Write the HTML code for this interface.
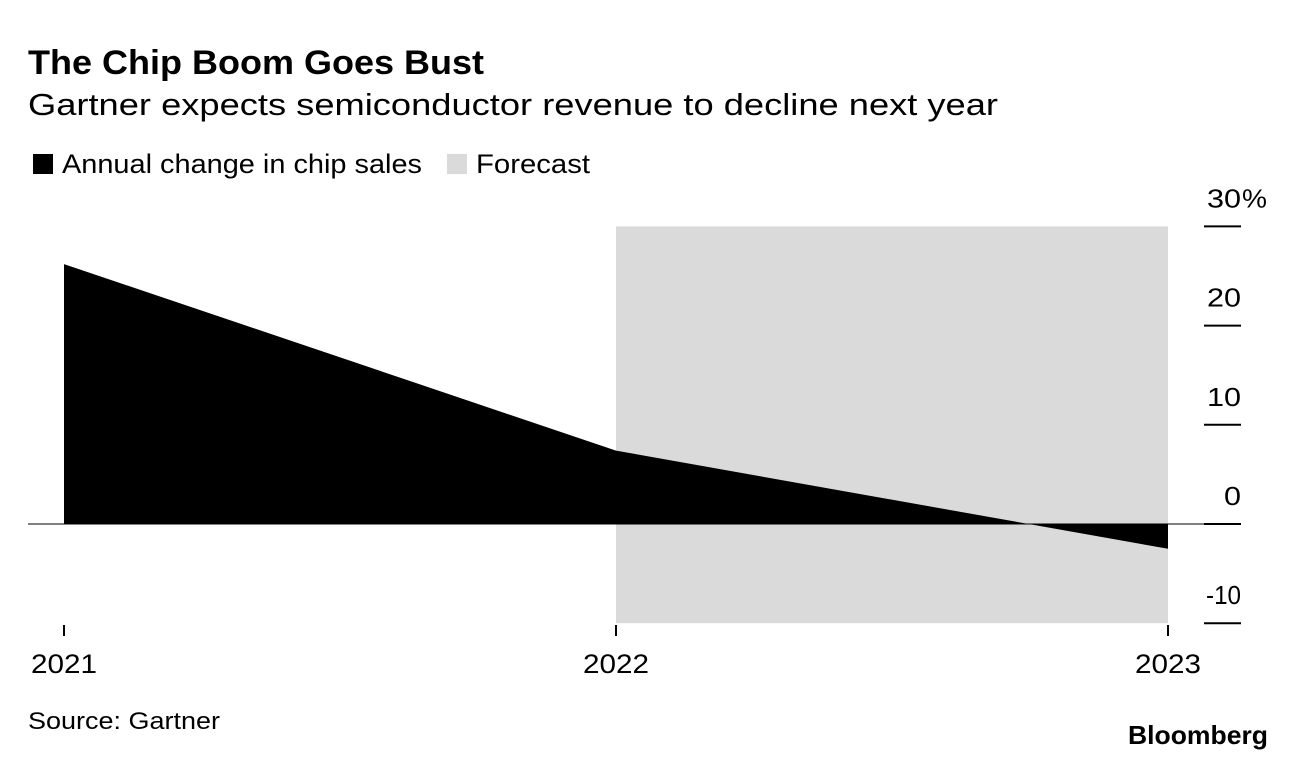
<!DOCTYPE html>
<html><head><meta charset="utf-8"><style>
body{margin:0;background:#fff;font-family:"Liberation Sans",sans-serif;}
svg text{font-family:"Liberation Sans",sans-serif;}
</style></head><body>
<svg width="1296" height="760">
<text x="28" y="74" font-size="34" font-weight="bold" textLength="456" lengthAdjust="spacingAndGlyphs">The Chip Boom Goes Bust</text>
<text x="28" y="115" font-size="31" textLength="970" lengthAdjust="spacingAndGlyphs">Gartner expects semiconductor revenue to decline next year</text>
<rect x="33" y="154" width="20" height="20" fill="#000"/>
<text x="62" y="173" font-size="27" textLength="360" lengthAdjust="spacingAndGlyphs">Annual change in chip sales</text>
<rect x="447" y="154" width="20" height="20" fill="#dadada"/>
<text x="476" y="173" font-size="27" textLength="114" lengthAdjust="spacingAndGlyphs">Forecast</text>
<g id="plot"></g>
<text x="28" y="729" font-size="24" textLength="192" lengthAdjust="spacingAndGlyphs">Source: Gartner</text>
<text x="1268" y="744" font-size="26" font-weight="bold" text-anchor="end" textLength="140" lengthAdjust="spacingAndGlyphs">Bloomberg</text>
</svg>
<script>
const years=[2021,2022,2023];
const values=[26.2,7.4,-2.5];
const yTicks=[30,20,10,0,-10];
const yTickLabels=["30","20","10","0","-10"];
const forecastStart=2022, forecastEnd=2023;
const NS="http://www.w3.org/2000/svg";
const g=document.getElementById('plot');
const xS=y=>64+(y-2021)*552;
const yS=v=>524-v*9.92;
function mk(t,a){const e=document.createElementNS(NS,t);for(const k in a)e.setAttribute(k,a[k]);g.appendChild(e);return e;}
let fr=mk('rect',{x:xS(forecastStart),y:yS(30),width:xS(forecastEnd)-xS(forecastStart),height:yS(-10)-yS(30),fill:'#dadada'});


let d='M'+xS(years[0])+','+yS(0);
years.forEach((y,i)=>{d+=' L'+xS(y)+','+yS(values[i]);});
d+=' L'+xS(years[years.length-1])+','+yS(0)+' Z';
let ar=mk('path',{d:d,fill:'#000'});


let zl=mk('line',{x1:28,x2:1204,y1:yS(0),y2:yS(0),stroke:'#000','stroke-width':1});


yTicks.forEach((t,i)=>{
 let l=mk('line',{x1:1204,x2:1241,y1:yS(t),y2:yS(t),stroke:'#000','stroke-width':2});
 
 
 let s=yTickLabels[i];
 let w=s.replace('-','').length*17+(s[0]==='-'?1:0);
 let tx=mk('text',{x:1241,y:yS(t)-19,'font-size':26,'text-anchor':'end',textLength:w,lengthAdjust:'spacingAndGlyphs'});
 tx.textContent=s;
 
 
 if(i===0){
  let p=mk('text',{x:1242,y:yS(t)-19,'font-size':26,textLength:25,lengthAdjust:'spacingAndGlyphs'});
  p.textContent='%';
  
  
 }
});
years.forEach(y=>{
 let l=mk('line',{x1:xS(y),x2:xS(y),y1:625,y2:636,stroke:'#000','stroke-width':2});
 
 
 let tx=mk('text',{x:xS(y),y:673,'font-size':27,'text-anchor':'middle',textLength:66,lengthAdjust:'spacingAndGlyphs'});
 tx.textContent=y;
 
 
});
</script>
</body></html>
